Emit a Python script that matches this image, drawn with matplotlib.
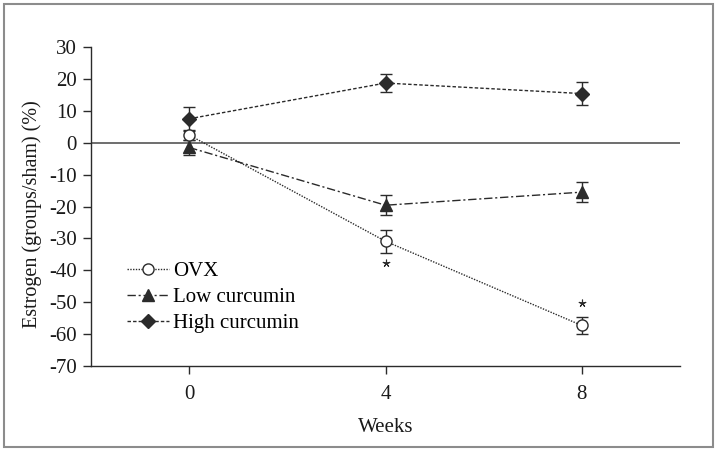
import matplotlib.pyplot as plt
from matplotlib.patches import Rectangle

# data
weeks = [0, 4, 8]
ovx = [2.4, -30.9, -57.3]
ovx_err = [1.5, 3.6, 2.8]
low_cur = [-1.5, -19.6, -15.5]
low_err = [2.3, 3.1, 3.1]
high_cur = [7.5, 18.7, 15.4]
high_err = [3.7, 2.7, 3.5]
star_weeks = [4, 8]
star_vals = [-37.6, -50.2]
yticks = list(range(-70, 31, 10))
xticks = [0, 4, 8]

plt.rcParams['font.family'] = ['Liberation Serif', 'DejaVu Serif']
plt.rcParams['axes.unicode_minus'] = False

dark = '#2b2b2b'

fig = plt.figure(figsize=(7.18, 4.51), dpi=100)
ax = fig.add_axes([91 / 718, 85 / 451, 589 / 718, 319 / 451])

# gray frame around the whole figure
fig.patches.append(Rectangle((4 / 718, 4 / 451), 709 / 718, 443 / 451,
                             transform=fig.transFigure, fill=False,
                             edgecolor='#8c8c8c', linewidth=1.5))

ax.axhline(0, color='#555555', linewidth=1.2, zorder=1)

series = [
    (ovx, ovx_err, 'OVX', 'o', 'white', 8, (0, (1, 1))),
    (low_cur, low_err, 'Low curcumin', '^', dark, 9, (0, (6, 2, 1.5, 2))),
    (high_cur, high_err, 'High curcumin', 'D', dark, 7.5, (0, (2.5, 1.5))),
]
for vals, err, label, marker, face, ms, ls in series:
    ax.errorbar(weeks, vals, yerr=err, fmt='none', ecolor=dark,
                elinewidth=1, capsize=4.5, capthick=1, zorder=2)
    ax.plot(weeks, vals, linestyle=ls, color=dark, linewidth=1,
            marker=marker, markersize=ms, markerfacecolor=face,
            markeredgecolor=dark, markeredgewidth=1, label=label, zorder=3)

# significance marks
ax.plot(star_weeks, star_vals, linestyle='none', marker=(5, 2, 0),
        markersize=5.5, color=dark, markeredgewidth=0.8)

ax.set_xlim(-2, 10)
ax.set_ylim(-70, 30)
ax.set_xticks(xticks)
ax.set_yticks(yticks)
ax.tick_params(axis='both', direction='out', length=6, width=1,
               color=dark, labelsize=15, labelcolor='#1a1a1a')
ax.tick_params(axis='x', pad=8)
ax.tick_params(axis='y', pad=4)

for side in ['top', 'right']:
    ax.spines[side].set_visible(False)
for side in ['left', 'bottom']:
    ax.spines[side].set_color(dark)
    ax.spines[side].set_linewidth(1)

ax.set_xlabel('Weeks', fontsize=15, labelpad=10, color='#1a1a1a')
ax.set_ylabel('Estrogen (groups/sham) (%)', fontsize=14.5, color='#1a1a1a')
ax.yaxis.set_label_coords(-0.083, 0.476)

ax.legend(loc='center left', bbox_to_anchor=(0.061, 0.215), frameon=False,
          fontsize=15, handlelength=2.0, handletextpad=0.2,
          labelspacing=0.3, borderpad=0, borderaxespad=0, numpoints=1)

fig.savefig('out.png', dpi=100, facecolor='white')
